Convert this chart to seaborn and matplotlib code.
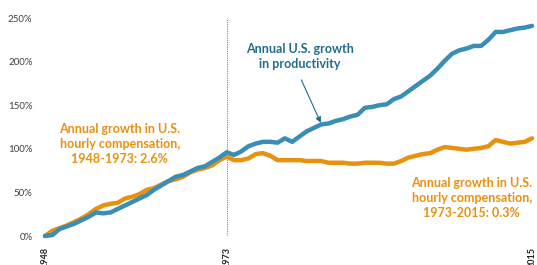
import pandas as pd
import matplotlib
matplotlib.use("Agg")
import matplotlib.pyplot as plt
import seaborn as sns

# Skumulowany wzrost od 1948 (%)
years = list(range(1948, 2016))
productivity = [0, 1, 8, 11, 14, 18, 22, 27, 26, 27, 31, 35, 39, 43, 47, 53, 58, 63, 68, 70,
                74, 78, 80, 85, 90, 96, 93, 97, 103, 106, 108, 108, 107, 112, 108, 114, 120, 124,
                128, 129, 132, 134, 137, 139, 147, 148, 150, 151, 157, 160, 166, 172, 178, 184,
                192, 201, 209, 213, 215, 218, 218, 225, 234, 234, 236, 238, 239, 241]
compensation = [0, 6, 9, 12, 16, 20, 25, 31, 35, 37, 38, 43, 45, 48, 53, 55, 59, 63, 65, 68,
                73, 76, 78, 81, 87, 91, 87, 87, 89, 94, 95, 92, 87, 87, 87, 87, 86, 86,
                86, 84, 84, 84, 83, 83, 84, 84, 84, 83, 83, 86, 90, 92, 94, 95,
                99, 102, 101, 100, 99, 100, 101, 103, 110, 108, 106, 107, 108, 112]
yticks = [0, 50, 100, 150, 200, 250]
ytick_labels = ["0%", "50%", "100%", "150%", "200%", "250%"]
xticks = [1948, 1973, 2015]

blue = "#3A8DB5"
blue_text = "#1F6D8E"
orange = "#E8910F"

df = pd.DataFrame({
    "year": years * 2,
    "value": productivity + compensation,
    "series": ["productivity"] * len(years) + ["compensation"] * len(years),
})

sns.set_style("white")
plt.rcParams["font.family"] = ["Lato", "DejaVu Sans"]

fig = plt.figure(figsize=(5.37, 2.65), dpi=100)
ax = fig.add_axes([45 / 537, 29 / 265, 487 / 537, 218 / 265])

sns.lineplot(data=df, x="year", y="value", hue="series",
             palette={"productivity": blue, "compensation": orange},
             hue_order=["compensation", "productivity"],
             linewidth=3.2, legend=False, ax=ax, clip_on=False)

ax.axvline(1973, color="#888888", linestyle=(0, (1, 1)), linewidth=0.8, zorder=0)

ax.set_xlim(1948, 2015)
ax.set_ylim(0, 250)
ax.set_yticks(yticks)
ax.set_yticklabels(ytick_labels, fontsize=7, color="#404040")
ax.set_xticks(xticks)
ax.set_xticklabels([str(x) for x in xticks], rotation=90, fontsize=6.5,
                   fontweight="bold", color="#222222", va="top")
ax.tick_params(axis="y", length=0, pad=9)
ax.tick_params(axis="x", length=0, pad=8)
ax.set_xlabel("")
ax.set_ylabel("")
for s in ax.spines.values():
    s.set_visible(False)

ax.text(1983.1, 206, "Annual U.S. growth\nin productivity", ha="center", va="center",
        fontsize=9, fontweight="bold", color=blue_text, linespacing=1.3)
ax.annotate("", xy=(1986.1, 127), xytext=(1983.1, 182),
            arrowprops=dict(arrowstyle="-|>", color=blue_text, lw=0.8, mutation_scale=8))
ax.text(1958.3, 105.5, "Annual growth in U.S.\nhourly compensation,\n1948-1973: 2.6%",
        ha="center", va="center", fontsize=9, fontweight="bold", color=orange, linespacing=1.3)
ax.text(2006.7, 43.6, "Annual growth in U.S.\nhourly compensation,\n1973-2015: 0.3%",
        ha="center", va="center", fontsize=9, fontweight="bold", color=orange, linespacing=1.3)

fig.savefig("out.png", dpi=100)
